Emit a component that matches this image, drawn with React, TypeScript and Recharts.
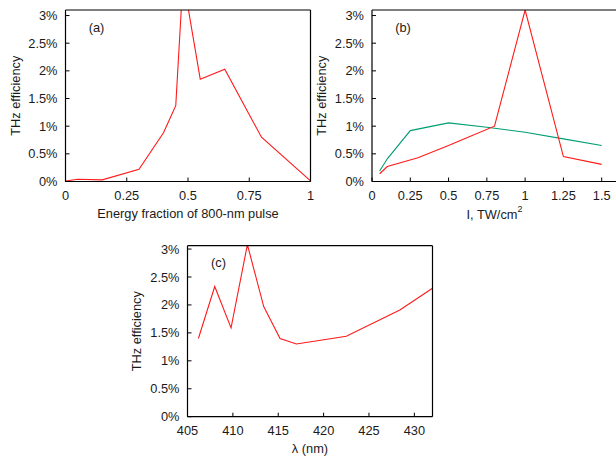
import React from 'react';
import { LineChart, Line, XAxis, YAxis } from 'recharts';

// (a) efficiency vs energy fraction of the 800-nm pulse
const fracX = [0, 0.05, 0.15, 0.3, 0.4, 0.45, 0.475, 0.5, 0.55, 0.65, 0.8, 1];
const fracEff = [0.01, 0.04, 0.03, 0.22, 0.88, 1.37, 3.3, 3.15, 1.85, 2.03, 0.8, 0.01];

// (b) efficiency vs intensity, two series
const redI = [0.05, 0.1, 0.3, 0.5, 0.6, 0.8, 1.0, 1.25, 1.5];
const redEff = [0.14, 0.27, 0.43, 0.65, 0.77, 1.0, 3.1, 0.45, 0.31];
const greenI = [0.05, 0.1, 0.25, 0.5, 0.75, 1.0, 1.25, 1.5];
const greenEff = [0.19, 0.41, 0.92, 1.06, 0.98, 0.89, 0.77, 0.65];

// (c) efficiency vs wavelength
const wl = [406.2, 408.0, 409.8, 411.6, 413.4, 415.2, 417.0, 422.5, 428.4, 432.0];
const wlEff = [1.4, 2.33, 1.59, 3.08, 1.97, 1.4, 1.3, 1.44, 1.91, 2.3];

const effTicks = [0, 0.5, 1, 1.5, 2, 2.5, 3];
const fracTicks = [0, 0.25, 0.5, 0.75, 1];
const intensityTicks = [0, 0.25, 0.5, 0.75, 1, 1.25, 1.5];
const wlTicks = [405, 410, 415, 420, 425, 430];

const toRows = (xs: number[], ys: number[]) => xs.map((x, i) => ({ x, eff: ys[i] }));

const FONT = '"Liberation Sans", Arial, Helvetica, sans-serif';
const INK = '#1a1a1a';
const RED = '#ff1a1a';
const GREEN = '#009e73';
const TICK_FS = 12.8;
const LABEL_FS = 12.8;

const yLabel = (props: any) => {
    const vb = props.viewBox || { x: 0, y: 0, width: 0, height: 0 };
    const cx = vb.x + vb.width - 50.5;
    const cy = vb.y + vb.height / 2;
    return (
        <text x={cx} y={cy} transform={`rotate(-90 ${cx} ${cy})`} textAnchor="middle"
            dominantBaseline="central" fontSize={LABEL_FS} fill={INK}>
            THz efficiency
        </text>
    );
};

const xLabel = (content: React.ReactNode) => (props: any) => {
    const vb = props.viewBox || { x: 0, y: 0, width: 0, height: 0 };
    return (
        <text x={vb.x + vb.width / 2} y={vb.y + 32} textAnchor="middle"
            dominantBaseline="central" fontSize={LABEL_FS} fill={INK}>
            {content}
        </text>
    );
};

const letterLabel = (letter: string) => (props: any) => {
    const vb = props.viewBox || { x: 0, y: 0, width: 0, height: 0 };
    return (
        <text x={vb.x + 31} y={vb.y + 18} textAnchor="middle" dominantBaseline="central"
            fontSize={LABEL_FS} fill={INK}>
            {letter}
        </text>
    );
};

type PanelProps = {
    left: number; top: number; width: number; height: number;
    margin: { top: number; right: number; bottom: number; left: number };
    yWidth: number; xHeight: number;
    xDomain: [number, number]; xTicks: number[]; yMax: number;
    letter: string; xTitle: React.ReactNode;
    children: React.ReactNode;
};

const Panel = (p: PanelProps) => (
    <div style={{ position: 'absolute', left: p.left, top: p.top, fontFamily: FONT }}>
        <LineChart width={p.width} height={p.height} margin={p.margin}>
            <XAxis xAxisId="b" dataKey="x" type="number" orientation="bottom" domain={p.xDomain}
                allowDataOverflow ticks={p.xTicks} interval={0} height={p.xHeight}
                axisLine={{ stroke: '#000', strokeWidth: 1.2 }} tickLine={{ stroke: '#000' }}
                tickSize={-4} tickMargin={13} tick={{ fill: INK, fontSize: TICK_FS }}
                label={xLabel(p.xTitle)} />
            <XAxis xAxisId="t" dataKey="x" type="number" orientation="top" domain={p.xDomain}
                allowDataOverflow ticks={p.xTicks} interval={0} height={1}
                axisLine={{ stroke: '#000', strokeWidth: 1.2 }} tickLine={{ stroke: '#000' }}
                tickSize={-4} tick={false} label={letterLabel(p.letter)} />
            <YAxis yAxisId="l" type="number" orientation="left" domain={[0, p.yMax]} allowDataOverflow
                ticks={effTicks} interval={0} width={p.yWidth}
                axisLine={{ stroke: '#000', strokeWidth: 1.2 }} tickLine={{ stroke: '#000' }}
                tickSize={-4} tickMargin={12} tick={{ fill: INK, fontSize: TICK_FS }}
                tickFormatter={(v: number) => `${v}%`} label={yLabel} />
            <YAxis yAxisId="r" type="number" orientation="right" domain={[0, p.yMax]} allowDataOverflow
                ticks={effTicks} interval={0} width={1}
                axisLine={{ stroke: '#000', strokeWidth: 1.2 }} tickLine={{ stroke: '#000' }}
                tickSize={-4} tick={false} />
            {p.children}
        </LineChart>
    </div>
);

export default function App() {
    return (
        <div style={{ position: 'absolute', left: 0, top: 0, width: 616, height: 457, overflow: 'hidden', background: '#fff' }}>
            <Panel left={0} top={0} width={320} height={230}
                margin={{ top: 9, right: 8.5, bottom: 0, left: 0 }} yWidth={65.5} xHeight={48.5}
                xDomain={[0, 1]} xTicks={fracTicks} yMax={3.1} letter="(a)"
                xTitle="Energy fraction of 800-nm pulse">
                <Line xAxisId="b" yAxisId="l" data={toRows(fracX, fracEff)} dataKey="eff" type="linear"
                    stroke={RED} strokeWidth={1.1} dot={false} activeDot={false} isAnimationActive={false} />
            </Panel>
            <Panel left={300} top={0} width={320} height={230}
                margin={{ top: 9, right: 2, bottom: 0, left: 0 }} yWidth={72} xHeight={48.5}
                xDomain={[0, 1.6]} xTicks={intensityTicks} yMax={3.1} letter="(b)"
                xTitle={<><tspan>I, TW/cm</tspan><tspan dy={-5} fontSize={9}>2</tspan></>}>
                <Line xAxisId="b" yAxisId="l" data={toRows(greenI, greenEff)} dataKey="eff" type="linear"
                    stroke={GREEN} strokeWidth={1.1} dot={false} activeDot={false} isAnimationActive={false} />
                <Line xAxisId="b" yAxisId="l" data={toRows(redI, redEff)} dataKey="eff" type="linear"
                    stroke={RED} strokeWidth={1.1} dot={false} activeDot={false} isAnimationActive={false} />
            </Panel>
            <Panel left={120} top={230} width={320} height={227}
                margin={{ top: 14.7, right: 6.5, bottom: 0, left: 0 }} yWidth={67.5} xHeight={40.3}
                xDomain={[405, 432]} xTicks={wlTicks} yMax={3.06} letter="(c)"
                xTitle="λ (nm)">
                <Line xAxisId="b" yAxisId="l" data={toRows(wl, wlEff)} dataKey="eff" type="linear"
                    stroke={RED} strokeWidth={1.1} dot={false} activeDot={false} isAnimationActive={false} />
            </Panel>
        </div>
    );
}
